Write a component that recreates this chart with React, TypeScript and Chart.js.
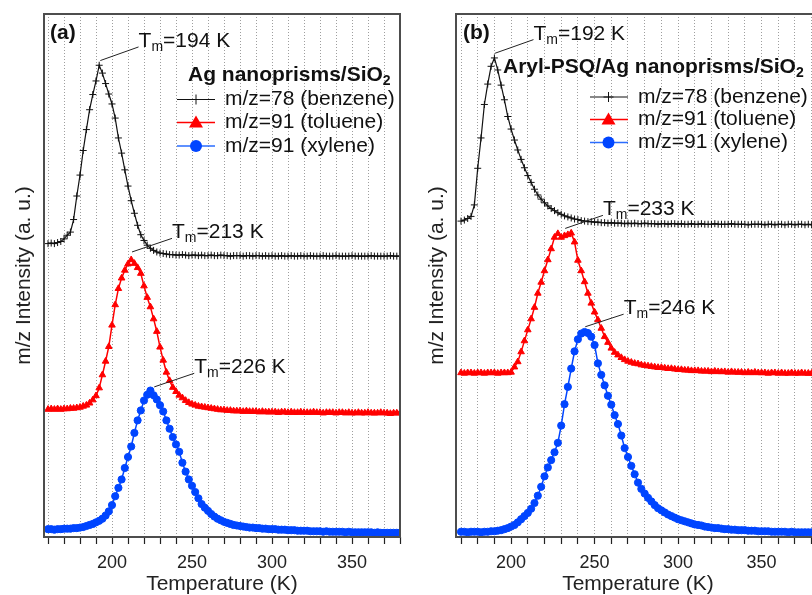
import React, { useEffect, useRef } from 'react';
import { Chart, registerables } from 'chart.js';

Chart.register(...registerables);

const FONT = "'Liberation Sans', Arial, Helvetica, sans-serif";

// ---------- Panel (a): Ag nanoprisms/SiO2 ----------
const tempA = [
  160, 162, 164, 166, 168, 170, 172, 174, 176, 178,
  180, 182, 184, 186, 188, 190, 192, 194, 196, 198,
  200, 202, 204, 206, 208, 210, 212, 214, 216, 218,
  220, 222, 224, 226, 228, 230, 232, 234, 236, 238,
  240, 242, 244, 246, 248, 250, 252, 254, 256, 258,
  260, 262, 264, 266, 268, 270, 272, 274, 276, 278,
  280, 282, 284, 286, 288, 290, 292, 294, 296, 298,
  300, 302, 304, 306, 308, 310, 312, 314, 316, 318,
  320, 322, 324, 326, 328, 330, 332, 334, 336, 338,
  340, 342, 344, 346, 348, 350, 352, 354, 356, 358,
  360, 362, 364, 366, 368, 370, 372, 374, 376, 378,
  380,
];

const benzeneA = [
  56.1, 56.2, 56.1, 56.3, 56.5, 57.0, 57.7, 58.3, 60.7, 65.2,
  69.2, 73.9, 77.9, 81.7, 84.6, 87.2, 90.2, 88.7, 86.7, 84.7,
  82.8, 80.1, 76.3, 73.4, 70.2, 67.1, 64.3, 61.9, 59.6, 57.8,
  56.7, 55.8, 55.2, 54.8, 54.5, 54.3, 54.2, 54.1, 54.0, 54.0,
  53.9, 53.9, 54.0, 53.9, 53.8, 53.9, 53.9, 53.8, 53.9, 53.8,
  53.8, 53.9, 53.8, 53.8, 53.9, 53.8, 53.8, 53.7, 53.8, 53.8,
  53.8, 53.7, 53.8, 53.8, 53.7, 53.8, 53.8, 53.7, 53.8, 53.7,
  53.8, 53.7, 53.7, 53.8, 53.7, 53.7, 53.8, 53.7, 53.7, 53.8,
  53.7, 53.7, 53.8, 53.7, 53.7, 53.7, 53.8, 53.7, 53.7, 53.7,
  53.8, 53.7, 53.7, 53.7, 53.7, 53.8, 53.7, 53.7, 53.7, 53.7,
  53.7, 53.8, 53.7, 53.7, 53.7, 53.7, 53.7, 53.8, 53.7, 53.7,
  53.7,
];

const tolueneA = [
  24.4, 24.5, 24.4, 24.5, 24.4, 24.5, 24.5, 24.6, 24.6, 24.7,
  24.8, 25.0, 25.2, 25.6, 26.2, 27.0, 28.5, 31.0, 33.6, 36.4,
  40.5, 44.4, 47.5, 49.5, 51.0, 52.2, 53.0, 52.3, 51.5, 50.4,
  48.0, 45.8, 44.0, 41.7, 39.3, 36.3, 33.8, 31.5, 29.9, 28.6,
  27.8, 27.1, 26.6, 26.1, 25.7, 25.4, 25.2, 25.0, 24.9, 24.8,
  24.7, 24.6, 24.5, 24.4, 24.3, 24.3, 24.2, 24.2, 24.1, 24.1,
  24.1, 24.0, 24.1, 24.0, 24.0, 24.0, 23.9, 24.0, 23.9, 23.9,
  23.9, 23.9, 23.8, 23.9, 23.9, 23.8, 23.9, 23.8, 23.8, 23.9,
  23.8, 23.8, 23.8, 23.9, 23.8, 23.8, 23.7, 23.8, 23.8, 23.8,
  23.7, 23.8, 23.8, 23.7, 23.8, 23.7, 23.7, 23.8, 23.7, 23.7,
  23.8, 23.7, 23.7, 23.7, 23.8, 23.7, 23.7, 23.6, 23.7, 23.7,
  23.7,
];

const xyleneA = [
  1.5, 1.5, 1.4, 1.5, 1.5, 1.6, 1.6, 1.6, 1.7, 1.7,
  1.8, 1.9, 2.1, 2.3, 2.5, 2.8, 3.1, 3.5, 4.1, 4.9,
  6.1, 7.8, 9.4, 11.0, 13.2, 15.3, 17.3, 19.9, 22.3, 24.2,
  26.1, 27.2, 28.0, 27.1, 26.3, 25.2, 24.0, 22.3, 20.7, 19.1,
  17.7, 16.3, 14.2, 12.5, 11.0, 9.8, 8.6, 7.4, 6.3, 5.6,
  5.0, 4.4, 3.9, 3.5, 3.2, 2.9, 2.7, 2.5, 2.3, 2.2,
  2.1, 2.0, 1.9, 1.8, 1.8, 1.7, 1.7, 1.6, 1.6, 1.5,
  1.5, 1.5, 1.4, 1.4, 1.4, 1.3, 1.3, 1.3, 1.2, 1.2,
  1.2, 1.2, 1.1, 1.1, 1.1, 1.1, 1.0, 1.1, 1.0, 1.0,
  1.0, 1.0, 1.0, 0.9, 1.0, 0.9, 0.9, 0.9, 0.9, 0.9,
  0.9, 0.9, 0.8, 0.9, 0.8, 0.8, 0.8, 0.8, 0.8, 0.8,
  0.8,
];

// ---------- Panel (b): Aryl-PSQ/Ag nanoprisms/SiO2 ----------
const tempB = [
  170, 172, 174, 176, 178, 180, 182, 184, 186, 188,
  190, 192, 194, 196, 198, 200, 202, 204, 206, 208,
  210, 212, 214, 216, 218, 220, 222, 224, 226, 228,
  230, 232, 234, 236, 238, 240, 242, 244, 246, 248,
  250, 252, 254, 256, 258, 260, 262, 264, 266, 268,
  270, 272, 274, 276, 278, 280, 282, 284, 286, 288,
  290, 292, 294, 296, 298, 300, 302, 304, 306, 308,
  310, 312, 314, 316, 318, 320, 322, 324, 326, 328,
  330, 332, 334, 336, 338, 340, 342, 344, 346, 348,
  350, 352, 354, 356, 358, 360, 362, 364, 366, 368,
  370, 372, 374, 376, 378, 380, 382, 384,
];

const benzeneB = [
  60.4, 60.6, 60.9, 61.3, 63.5, 70.5, 76.3, 82.7, 86.6, 90.0,
  91.6, 89.3, 86.4, 83.6, 80.4, 78.0, 75.9, 74.0, 72.2, 70.6,
  69.1, 67.8, 66.5, 65.4, 64.6, 63.9, 63.3, 62.8, 62.4, 62.0,
  61.7, 61.4, 61.2, 61.0, 60.8, 60.7, 60.5, 60.4, 60.3, 60.3,
  60.2, 60.2, 60.1, 60.1, 60.0, 60.1, 60.0, 60.0, 60.0, 59.9,
  60.0, 59.9, 60.0, 59.9, 59.9, 60.0, 59.9, 59.9, 59.9, 59.8,
  59.9, 59.9, 59.8, 59.9, 59.9, 59.8, 59.9, 59.8, 59.8, 59.9,
  59.8, 59.8, 59.9, 59.8, 59.8, 59.8, 59.9, 59.8, 59.8, 59.8,
  59.8, 59.9, 59.8, 59.8, 59.8, 59.8, 59.7, 59.8, 59.8, 59.8,
  59.8, 59.7, 59.8, 59.8, 59.7, 59.8, 59.8, 59.7, 59.8, 59.8,
  59.7, 59.8, 59.8, 59.7, 59.8, 59.7, 59.8, 59.7,
];

const tolueneB = [
  31.4, 31.3, 31.4, 31.4, 31.3, 31.4, 31.4, 31.3, 31.4, 31.4,
  31.4, 31.3, 31.4, 31.4, 31.4, 31.5, 32.5, 33.5, 35.4, 37.5,
  39.6, 41.7, 43.9, 46.6, 48.7, 50.9, 53.0, 55.1, 57.3, 58.0,
  57.3, 57.6, 57.8, 58.1, 56.4, 52.9, 50.9, 48.8, 46.6, 44.7,
  43.0, 41.5, 39.9, 38.3, 37.2, 36.1, 35.3, 34.8, 34.3, 33.9,
  33.6, 33.4, 33.2, 33.1, 32.9, 32.8, 32.7, 32.6, 32.5, 32.4,
  32.4, 32.3, 32.2, 32.2, 32.1, 32.0, 32.0, 31.9, 31.9, 31.8,
  31.8, 31.8, 31.7, 31.7, 31.7, 31.6, 31.7, 31.6, 31.6, 31.6,
  31.5, 31.6, 31.5, 31.5, 31.5, 31.4, 31.5, 31.4, 31.5, 31.4,
  31.4, 31.4, 31.3, 31.4, 31.4, 31.3, 31.4, 31.3, 31.3, 31.4,
  31.3, 31.3, 31.4, 31.3, 31.3, 31.3, 31.2, 31.3,
];

const xyleneB = [
  1.0, 1.0, 0.9, 1.0, 1.0, 1.0, 0.9, 1.0, 1.0, 1.1,
  1.1, 1.2, 1.3, 1.5, 1.7, 2.0, 2.3, 2.8, 3.4, 4.0,
  4.6, 5.4, 6.5, 7.9, 9.6, 11.6, 13.3, 14.7, 16.2, 18.0,
  21.3, 25.4, 28.7, 32.2, 35.5, 37.8, 38.9, 39.2, 39.0, 38.3,
  36.7, 33.2, 31.0, 29.0, 27.0, 25.3, 23.3, 21.6, 19.4, 17.0,
  15.3, 13.6, 12.0, 10.4, 9.2, 8.3, 7.5, 6.8, 6.1, 5.5,
  5.1, 4.7, 4.3, 4.0, 3.7, 3.4, 3.2, 3.0, 2.8, 2.6,
  2.4, 2.3, 2.2, 2.0, 1.9, 1.8, 1.7, 1.7, 1.6, 1.5,
  1.5, 1.4, 1.4, 1.3, 1.3, 1.3, 1.2, 1.2, 1.2, 1.1,
  1.1, 1.1, 1.1, 1.0, 1.0, 1.0, 1.0, 1.0, 0.9, 1.0,
  0.9, 0.9, 0.9, 0.9, 0.9, 0.9, 0.9, 0.9,
];

const seriesNames = ['m/z=78 (benzene)', 'm/z=91 (toluene)', 'm/z=91 (xylene)'];
const peakTmA = [194, 213, 226];
const peakTmB = [192, 233, 246];

const BLACK = '#111111';
const RED = '#ff0000';
const BLUE = '#0045ff';
const BLUE_LINE = '#2a6cff';
const TEXT = '#111111';

type Kind = 'cross' | 'triangle' | 'circle';

function drawMarker(ctx: CanvasRenderingContext2D, kind: Kind, x: number, y: number, color: string) {
  ctx.save();
  ctx.strokeStyle = color;
  ctx.fillStyle = color;
  if (kind === 'cross') {
    ctx.lineWidth = 1;
    ctx.beginPath();
    ctx.moveTo(x, y - 5);
    ctx.lineTo(x, y + 5);
    ctx.moveTo(x - 5, y);
    ctx.lineTo(x + 5, y);
    ctx.stroke();
  } else if (kind === 'triangle') {
    ctx.beginPath();
    ctx.moveTo(x, y - 7);
    ctx.lineTo(x - 7, y + 5);
    ctx.lineTo(x + 7, y + 5);
    ctx.closePath();
    ctx.fill();
  } else {
    ctx.beginPath();
    ctx.arc(x, y, 6, 0, Math.PI * 2);
    ctx.fill();
  }
  ctx.restore();
}

function drawTm(ctx: CanvasRenderingContext2D, x: number, y: number, value: number) {
  ctx.textAlign = 'left';
  ctx.textBaseline = 'alphabetic';
  ctx.fillStyle = TEXT;
  ctx.font = `21px ${FONT}`;
  ctx.fillText('T', x, y);
  let w = ctx.measureText('T').width;
  ctx.font = `14px ${FONT}`;
  ctx.fillText('m', x + w, y + 4);
  w += ctx.measureText('m').width;
  ctx.font = `21px ${FONT}`;
  ctx.fillText(`=${value} K`, x + w, y);
}

type Ann = { fromT: number; fromV: number; toT: number; toV: number };

type Decor = {
  panel: string;
  panelX: number;
  panelY: number;
  legTitle: string;
  legTitleX: number;
  legTitleY: number;
  rowsY: number[];
  lineX1: number;
  lineX2: number;
  markX: number;
  textX: number;
  anns: Ann[];
  tms: number[];
};

const decorPlugin = {
  id: 'decor',
  afterDatasetsDraw(chart: any, _args: any, opts: Decor) {
    const { ctx, chartArea: ca, scales } = chart;
    const xs = scales.x;
    const ys = scales.y;
    ctx.save();
    // frame
    ctx.strokeStyle = '#4d4d4d';
    ctx.lineWidth = 2;
    ctx.strokeRect(ca.left, ca.top, ca.right - ca.left, ca.bottom - ca.top);

    // panel letter
    ctx.fillStyle = TEXT;
    ctx.font = `bold 21px ${FONT}`;
    ctx.textAlign = 'left';
    ctx.textBaseline = 'middle';
    ctx.fillText(opts.panel, opts.panelX, opts.panelY);

    // T_m annotations
    opts.anns.forEach((a, i) => {
      const x1 = xs.getPixelForValue(a.fromT);
      const y1 = ys.getPixelForValue(a.fromV);
      const x2 = xs.getPixelForValue(a.toT);
      const y2 = ys.getPixelForValue(a.toV);
      ctx.strokeStyle = '#222';
      ctx.lineWidth = 1;
      ctx.beginPath();
      ctx.moveTo(x1, y1);
      ctx.lineTo(x2, y2);
      ctx.stroke();
      drawTm(ctx, x2, y2, opts.tms[i]);
    });

    // legend title with subscript
    ctx.fillStyle = TEXT;
    ctx.textAlign = 'left';
    ctx.textBaseline = 'middle';
    ctx.font = `bold 21px ${FONT}`;
    ctx.fillText(opts.legTitle, opts.legTitleX, opts.legTitleY);
    const tw = ctx.measureText(opts.legTitle).width;
    ctx.font = `bold 14px ${FONT}`;
    ctx.fillText('2', opts.legTitleX + tw, opts.legTitleY + 6);

    // legend entries
    const styles: { color: string; line: string; width: number; kind: Kind }[] = [
      { color: BLACK, line: BLACK, width: 1, kind: 'cross' },
      { color: RED, line: RED, width: 1.5, kind: 'triangle' },
      { color: BLUE, line: BLUE_LINE, width: 1.5, kind: 'circle' },
    ];
    styles.forEach((s, i) => {
      const y = opts.rowsY[i];
      ctx.strokeStyle = s.line;
      ctx.lineWidth = s.width;
      ctx.beginPath();
      ctx.moveTo(opts.lineX1, y);
      ctx.lineTo(opts.lineX2, y);
      ctx.stroke();
      drawMarker(ctx, s.kind, opts.markX, y, s.color);
      ctx.fillStyle = TEXT;
      ctx.font = `21px ${FONT}`;
      ctx.textAlign = 'left';
      ctx.textBaseline = 'middle';
      ctx.fillText(seriesNames[i], opts.textX, y);
    });
    ctx.restore();
  },
};

type PanelProps = {
  left: number;
  width: number;
  temps: number[];
  series: number[][];
  xMin: number;
  xMax: number;
  padding: { left: number; right: number; top: number; bottom: number };
  yWidth: number;
  decor: Decor;
};

function Panel({ left, width, temps, series, xMin, xMax, padding, yWidth, decor }: PanelProps) {
  const ref = useRef<HTMLCanvasElement>(null);
  useEffect(() => {
    const pts = (vals: number[]) => temps.map((t, i) => ({ x: t, y: vals[i] }));
    const chart = new Chart(ref.current as HTMLCanvasElement, {
      type: 'line',
      data: {
        datasets: [
          {
            label: seriesNames[0],
            data: pts(series[0]),
            borderColor: BLACK,
            borderWidth: 1.2,
            pointStyle: 'cross',
            pointRadius: 3.5,
            pointBorderColor: BLACK,
            pointBackgroundColor: BLACK,
            pointBorderWidth: 1,
            tension: 0,
          },
          {
            label: seriesNames[1],
            data: pts(series[1]),
            borderColor: RED,
            borderWidth: 1.5,
            pointStyle: 'triangle',
            pointRadius: 3.8,
            pointBorderColor: RED,
            pointBackgroundColor: RED,
            pointBorderWidth: 1,
            tension: 0,
          },
          {
            label: seriesNames[2],
            data: pts(series[2]),
            borderColor: BLUE,
            borderWidth: 1.5,
            pointStyle: 'circle',
            pointRadius: 3.6,
            pointBorderColor: BLUE,
            pointBackgroundColor: BLUE,
            pointBorderWidth: 1,
            tension: 0,
          },
        ],
      },
      options: {
        responsive: false,
        animation: false,
        devicePixelRatio: 1,
        layout: { padding },
        plugins: {
          legend: { display: false },
          tooltip: { enabled: false },
          decor,
        } as any,
        scales: {
          x: {
            type: 'linear',
            min: xMin,
            max: xMax,
            afterFit: (s: any) => {
              s.height = 58;
            },
            ticks: {
              stepSize: 10,
              includeBounds: false,
              autoSkip: false,
              maxRotation: 0,
              minRotation: 0,
              padding: 8,
              color: '#222',
              font: { family: FONT, size: 18 },
              callback: (v: any) => (Math.round(v) % 50 === 0 ? String(Math.round(v)) : ''),
            },
            grid: {
              color: 'rgba(0,0,0,0.38)',
              lineWidth: 1,
              drawTicks: true,
              tickLength: 7,
              tickColor: '#222',
              tickWidth: 1.2,
            },
            border: { display: false, dash: [1, 2] },
            title: {
              display: true,
              text: 'Temperature (K)',
              color: '#222',
              font: { family: FONT, size: 21, lineHeight: 1 },
              padding: { top: 0, bottom: 0 },
            },
          },
          y: {
            type: 'linear',
            min: 0,
            max: 100,
            afterFit: (s: any) => {
              s.width = yWidth;
            },
            ticks: { display: false },
            grid: { display: false },
            border: { display: false },
            title: {
              display: true,
              text: 'm/z Intensity (a. u.)',
              color: '#222',
              font: { family: FONT, size: 21, lineHeight: 1 },
              padding: { top: 0, bottom: 0 },
            },
          },
        },
      } as any,
      plugins: [decorPlugin as any],
    });
    return () => chart.destroy();
  }, []);
  return (
    <canvas
      ref={ref}
      width={width}
      height={595}
      style={{ position: 'absolute', left, top: 0, width, height: 595 }}
    />
  );
}

const decorA: Decor = {
  panel: '(a)',
  panelX: 50,
  panelY: 33.5,
  legTitle: 'Ag nanoprisms/SiO',
  legTitleX: 188,
  legTitleY: 75,
  rowsY: [99.5, 122.5, 146],
  lineX1: 177,
  lineX2: 215,
  markX: 196,
  textX: 225,
  anns: [
    { fromT: 192.7, fromV: 91.1, toT: 216.6, toV: 93.7 },
    { fromT: 212.5, fromV: 54.5, toT: 237.5, toV: 57.1 },
    { fromT: 226.4, fromV: 28.7, toT: 251.4, toV: 31.3 },
  ],
  tms: peakTmA,
};

const decorB: Decor = {
  panel: '(b)',
  panelX: 55,
  panelY: 33.5,
  legTitle: 'Aryl-PSQ/Ag nanoprisms/SiO',
  legTitleX: 95,
  legTitleY: 67,
  rowsY: [97, 119.5, 142.5],
  lineX1: 182,
  lineX2: 220,
  markX: 200.5,
  textX: 230,
  anns: [
    { fromT: 190.4, fromV: 92.5, toT: 213.4, toV: 95.1 },
    { fromT: 232.4, fromV: 59.0, toT: 255.0, toV: 61.5 },
    { fromT: 244.4, fromV: 40.2, toT: 267.4, toV: 42.6 },
  ],
  tms: peakTmB,
};

export default function App() {
  return (
    <div
      style={{
        position: 'fixed',
        left: 0,
        top: 0,
        width: 812,
        height: 595,
        overflow: 'hidden',
        background: '#ffffff',
      }}
    >
      <Panel
        left={0}
        width={408}
        temps={tempA}
        series={[benzeneA, tolueneA, xyleneA]}
        xMin={157.5}
        xMax={380}
        padding={{ left: 14, right: 8, top: 14, bottom: 0 }}
        yWidth={30}
        decor={decorA}
      />
      <Panel
        left={408}
        width={424}
        temps={tempB}
        series={[benzeneB, tolueneB, xyleneB]}
        xMin={167}
        xMax={385}
        padding={{ left: 19, right: 12, top: 14, bottom: 0 }}
        yWidth={29}
        decor={decorB}
      />
    </div>
  );
}
